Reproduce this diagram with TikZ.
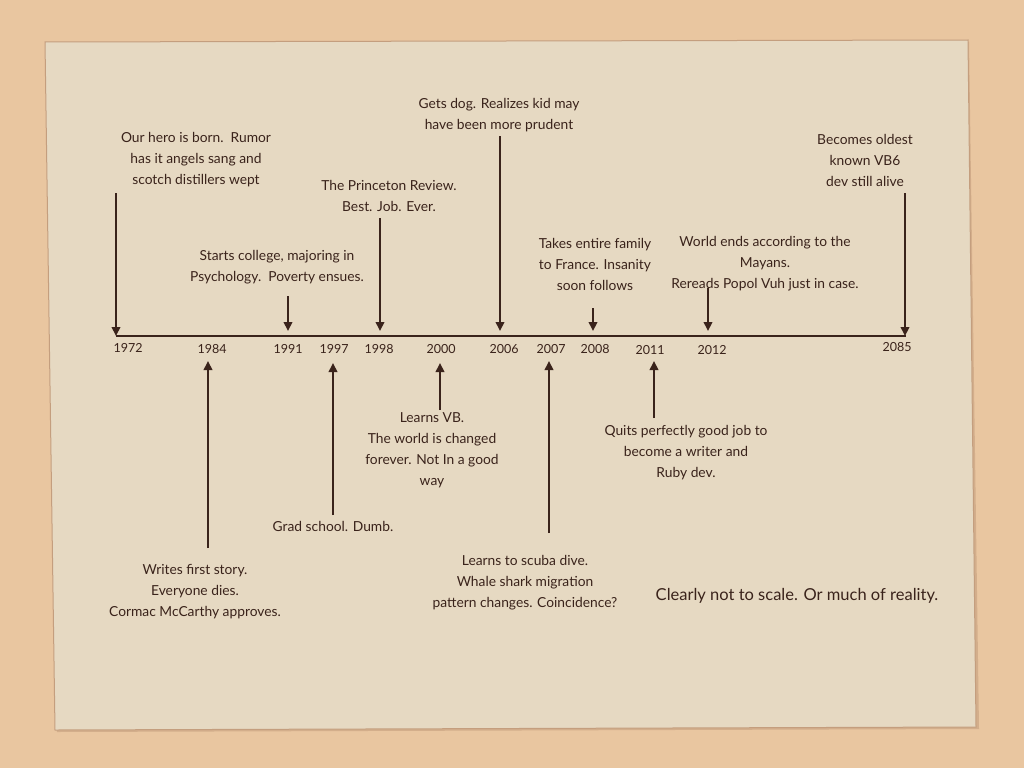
\documentclass[tikz,border=0pt]{standalone}
\usepackage{fontspec}
\setmainfont{Lato}
\usetikzlibrary{arrows.meta}
\definecolor{bgtan}{HTML}{E9C6A0}
\definecolor{paper}{HTML}{E6D9C2}
\definecolor{paperedge}{HTML}{C49E7E}
\definecolor{ink}{HTML}{3A231B}
\tikzset{
  note/.style={align=center, text=ink, font=\fontsize{13.8}{21}\selectfont, inner sep=0pt},
  year/.style={text=ink, font=\fontsize{12.5}{14}\selectfont, inner sep=0pt},
  evarrow/.style={draw=ink, line width=2pt, -{Triangle[length=9pt,width=8.5pt]}},
  axis/.style={draw=ink, line width=2.6pt},
}
\begin{document}
\begin{tikzpicture}[x=1pt,y=-1pt]
\useasboundingbox (0,0) rectangle (1024,768);
\fill[bgtan] (0,0) rectangle (1024,768);
\fill[paperedge!60!bgtan] (47,44) -- (969,42) -- (979,729) -- (57,732) -- cycle;
\fill[paper, draw=paperedge, line width=1pt] (45,42) -- (968,40) -- (976,727) -- (55,730) -- cycle;

% axis
\coordinate (axL) at (116,336);
\coordinate (axR) at (906,336);
\draw[axis] (axL) -- (axR);

% years
\node[year] (y1972) at (128,348) {1972};
\node[year] (y1984) at (212,349) {1984};
\node[year] (y1991) at (288,349) {1991};
\node[year] (y1997) at (334,349) {1997};
\node[year] (y1998) at (379,349) {1998};
\node[year] (y2000) at (441,349) {2000};
\node[year] (y2006) at (504,349) {2006};
\node[year] (y2007) at (551,349) {2007};
\node[year] (y2008) at (595,349) {2008};
\node[year] (y2011) at (650,350) {2011};
\node[year] (y2012) at (712,350) {2012};
\node[year] (y2085) at (897,347) {2085};

% above notes
\node[note] (n1972) at (196,160) {Our hero is born.\ \ Rumor\\has it angels sang and\\scotch distillers wept};
\node[note] (n1991) at (277,267) {Starts college, majoring in\\Psychology.\ \ Poverty ensues.};
\node[note] (n1998) at (389,196) {The Princeton Review.\\Best. Job. Ever.};
\node[note] (n2006) at (499,115) {Gets dog. Realizes kid may\\have been more prudent};
\node[note] (n2008) at (595,264) {Takes entire family\\to France. Insanity\\soon follows};
\node[note] (n2012) at (765,264) {World ends according to the\\Mayans.\\Rereads Popol Vuh just in case.};
\node[note] (n2085) at (865,160) {Becomes oldest\\known VB6\\dev still alive};

% below notes
\node[note] (n1984) at (195,592) {Writes first story.\\Everyone dies.\\Cormac McCarthy approves.};
\node[note] (n1997) at (333,526) {Grad school. Dumb.};
\node[note] (n2000) at (432,450) {Learns VB.\\The world is changed\\forever. Not In a good\\way};
\node[note] (n2007) at (525,583) {Learns to scuba dive.\\Whale shark migration\\pattern changes. Coincidence?};
\node[note] (n2011) at (686,453) {Quits perfectly good job to\\become a writer and\\Ruby dev.};
\node[note, font=\fontsize{16.5}{20}\selectfont] (disc) at (797,596) {Clearly not to scale. Or much of reality.};

% arrow anchor coordinates
\coordinate (a1972s) at (116,193); \coordinate (a1972e) at (116,336);
\coordinate (a1991s) at (288,296); \coordinate (a1991e) at (288,331);
\coordinate (a1998s) at (380,218); \coordinate (a1998e) at (380,331);
\coordinate (a2006s) at (500,136); \coordinate (a2006e) at (500,331);
\coordinate (a2008s) at (593,308); \coordinate (a2008e) at (593,331);
\coordinate (a2012s) at (708,288); \coordinate (a2012e) at (708,331);
\coordinate (a2085s) at (905,193); \coordinate (a2085e) at (905,336);

\coordinate (a1984s) at (208,548); \coordinate (a1984e) at (208,361);
\coordinate (a1997s) at (333,515); \coordinate (a1997e) at (333,363);
\coordinate (a2000s) at (440,410); \coordinate (a2000e) at (440,363);
\coordinate (a2007s) at (549,533); \coordinate (a2007e) at (549,361);
\coordinate (a2011s) at (654,418); \coordinate (a2011e) at (654,361);

\foreach \e in {1972,1991,1998,2006,2008,2012,2085,1984,1997,2000,2007,2011}
  \draw[evarrow] (a\e s) -- (a\e e);
\end{tikzpicture}
\end{document}
